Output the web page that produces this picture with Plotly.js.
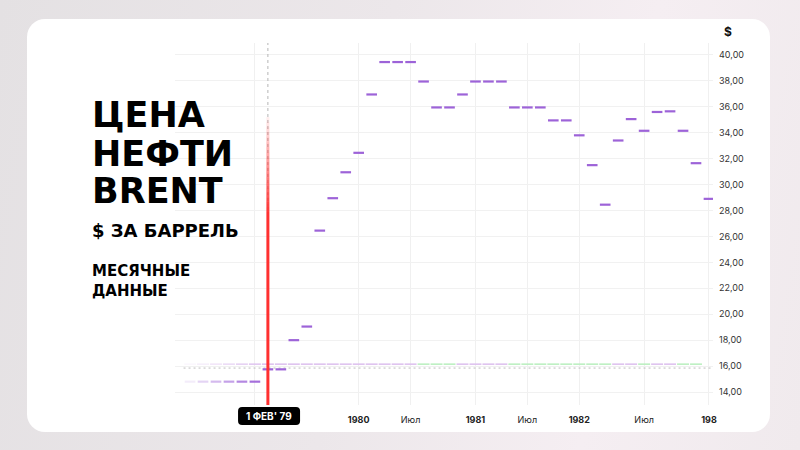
<!DOCTYPE html>
<html>
<head>
<meta charset="utf-8">
<script src="https://cdn.plot.ly/plotly-3.0.1.min.js"></script>
<style>
  html, body { margin:0; padding:0; width:800px; height:450px; overflow:hidden; }
  body { background: linear-gradient(100deg, #e4e1e3 0%, #ece7ea 45%, #f5eef2 75%, #f0eaed 100%); position:relative; }
  #card { position:absolute; left:27px; top:19px; width:743px; height:413px; border-radius:18px; background:#ffffff; }
  #chart { position:absolute; left:0; top:0; width:800px; height:450px; }
</style>
</head>
<body>
<div id="card"></div>
<div id="chart"></div>
<script>
// Monthly Brent price bars (USD per barrel), left to right
const prices = [14.8, 14.8, 14.8, 14.8, 14.8, 14.8, 15.75, 15.75, 18.0, 19.05,
  26.45, 28.95, 30.95, 32.45, 36.95, 39.45, 39.45, 39.45, 37.95, 35.95,
  35.95, 36.95, 37.95, 37.95, 37.95, 35.95, 35.95, 35.95, 34.95, 34.95,
  33.8, 31.5, 28.45, 33.4, 35.05, 34.15, 35.6, 35.65, 34.15, 31.65, 28.9];
// Direction strip under the bars: d = down (purple), u = up (green)
const directions = ['d','d','d','d','d','d','d','d','d','d','d','d','d','d','d','d','d','d',
  'u','u','u','d','d','d','d','u','u','u','u','u','u','u','u','d','d','u','d','d','u','u'];
const stripLevel = 16.15;
const dashedLevel = 15.85;
// x-axis ticks (bar index) and labels; the 1979 label sits hidden under the marker box
const tickIndex = [5, 13, 17, 22, 26, 30, 35, 40];
const tickLabels = ['', '<b>1980</b>', 'Июл', '<b>1981</b>', 'Июл', '<b>1982</b>', 'Июл', '<b>198</b>'];
const markerIndex = 6;
const markerLabel = "1 ФЕВ' 79";

const traces = [];
const fade = i => Math.min(1, 0.12 + i * 0.16);

// direction strip
directions.forEach((d, i) => {
  traces.push({
    type: 'scatter', mode: 'lines',
    x: [i - 0.46, i + 0.46], y: [stripLevel, stripLevel],
    line: { color: d === 'u' ? '#b8efbd' : '#dcbfee', width: 1.5 },
    opacity: fade(i), hoverinfo: 'skip', showlegend: false
  });
});
// dashed level line
traces.push({
  type: 'scatter', mode: 'lines',
  x: [-0.5, 40.4], y: [dashedLevel, dashedLevel],
  line: { color: '#bcbcbc', width: 1, dash: '2px,3px' },
  hoverinfo: 'skip', showlegend: false
});
// price bars
prices.forEach((p, i) => {
  traces.push({
    type: 'scatter', mode: 'lines',
    x: [i - 0.41, i + 0.41], y: [p, p],
    line: { color: '#9d63d8', width: 2.2 },
    opacity: fade(i), hoverinfo: 'skip', showlegend: false
  });
});

const shapes = [];
// dashed vertical marker guide
shapes.push({ type: 'line', xref: 'x', yref: 'y', x0: markerIndex, x1: markerIndex, y0: 13, y1: 40.92,
  line: { color: '#b5b5b5', width: 1, dash: '3px,3px' } });
// red marker line with fading top
const steps = 20, topV = 35.2, solidV = 27.5;
for (let k = 0; k < steps; k++) {
  const a = topV - (topV - solidV) * k / steps;
  const b = topV - (topV - solidV) * (k + 1) / steps;
  const alpha = (0.04 + 0.96 * (k + 1) / steps).toFixed(3);
  shapes.push({ type: 'line', xref: 'x', yref: 'y', x0: markerIndex, x1: markerIndex, y0: a, y1: b,
    line: { color: 'rgba(255,48,48,' + alpha + ')', width: 3 } });
}
shapes.push({ type: 'line', xref: 'x', yref: 'y', x0: markerIndex, x1: markerIndex, y0: solidV, y1: 12.9,
  line: { color: 'rgb(255,48,48)', width: 3 } });
// rounded label box
(function () {
  const x0 = markerIndex - 2.3, x1 = markerIndex + 2.48, y0 = -0.0552, y1 = -0.0055, rx = 0.31, ry = 0.011;
  const path = `M ${x0 + rx},${y1} L ${x1 - rx},${y1} Q ${x1},${y1} ${x1},${y1 - ry} L ${x1},${y0 + ry} Q ${x1},${y0} ${x1 - rx},${y0} L ${x0 + rx},${y0} Q ${x0},${y0} ${x0},${y0 + ry} L ${x0},${y1 - ry} Q ${x0},${y1} ${x0 + rx},${y1} Z`;
  shapes.push({ type: 'path', xref: 'x', yref: 'paper', path: path, fillcolor: '#000000', line: { width: 0 }, layer: 'above' });
})();

const leftFont = (size) => ({ family: 'DejaVu Sans', size: size, color: '#000000', weight: 700 });
const annotations = [
  { xref: 'paper', yref: 'paper', x: -0.158, y: 0.800, xanchor: 'left', yanchor: 'middle', showarrow: false, text: 'ЦЕНА', font: leftFont(35) },
  { xref: 'paper', yref: 'paper', x: -0.158, y: 0.694, xanchor: 'left', yanchor: 'middle', showarrow: false, text: 'НЕФТИ', font: leftFont(35) },
  { xref: 'paper', yref: 'paper', x: -0.158, y: 0.591, xanchor: 'left', yanchor: 'middle', showarrow: false, text: 'BRENT', font: leftFont(35) },
  { xref: 'paper', yref: 'paper', x: -0.158, y: 0.482, xanchor: 'left', yanchor: 'middle', showarrow: false, text: '$ ЗА БАРРЕЛЬ', font: leftFont(18) },
  { xref: 'paper', yref: 'paper', x: -0.158, y: 0.343, xanchor: 'left', yanchor: 'middle', align: 'left', showarrow: false,
    text: 'МЕСЯЧНЫЕ<br>ДАННЫЕ', font: leftFont(15) },
  { xref: 'paper', yref: 'paper', x: 1.028, y: 1.033, xanchor: 'center', yanchor: 'middle', showarrow: false, text: '<b>$</b>', font: { family: 'Inter', size: 12, color: '#111' } },
  { xref: 'x', yref: 'paper', x: markerIndex + 0.09, y: -0.0303, xanchor: 'center', yanchor: 'middle', showarrow: false,
    text: '<b>' + markerLabel + '</b>', font: { family: 'Inter', size: 10, color: '#ffffff' } }
];

const layout = {
  width: 800, height: 450,
  margin: { l: 175, r: 87, t: 43, b: 45 },
  paper_bgcolor: 'rgba(0,0,0,0)', plot_bgcolor: 'rgba(0,0,0,0)',
  separators: ', ',
  showlegend: false,
  xaxis: {
    range: [-1.16, 40.31], tickmode: 'array', tickvals: tickIndex, ticktext: tickLabels,
    showgrid: true, gridcolor: '#f0f0f0', gridwidth: 1, zeroline: false, showline: false, ticks: '',
    ticklabelstandoff: 8, tickfont: { family: 'Inter', size: 9, color: '#222' }, fixedrange: true
  },
  yaxis: {
    side: 'right', range: [13.0, 40.92], tickmode: 'linear', tick0: 0, dtick: 2, tickformat: '.2f',
    showgrid: true, gridcolor: '#f1f1f1', zeroline: false, showline: false, ticks: '',
    ticklabelstandoff: 5, tickfont: { family: 'Inter', size: 9, color: '#333' }, fixedrange: true
  },
  shapes: shapes,
  annotations: annotations
};

Plotly.newPlot('chart', traces, layout, { displayModeBar: false, staticPlot: true });
</script>
</body>
</html>
